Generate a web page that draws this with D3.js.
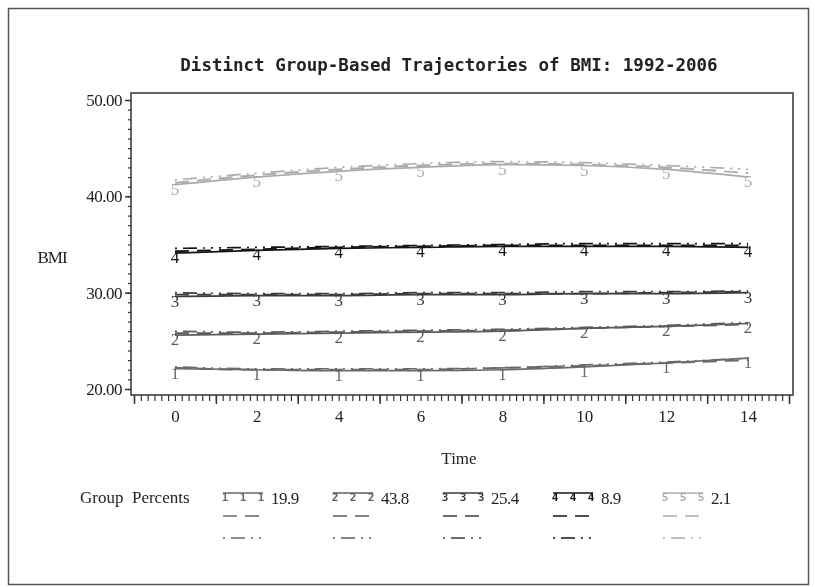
<!DOCTYPE html>
<html>
<head>
<meta charset="utf-8">
<script src="https://cdn.jsdelivr.net/npm/d3@7"></script>
<style>
  body { margin: 0; background: #fff; }
  svg { filter: grayscale(1); }
  svg text { fill: #222; }
</style>
</head>
<body>
<div id="container"></div>
<script>
// values
var times = [0, 2, 4, 6, 8, 10, 12, 14];
var groups = ['1', '2', '3', '4', '5'];
var percents = [19.9, 43.8, 25.4, 8.9, 2.1];

// solid lines (with the group number marker)
var observed = [
  [22.1, 22.0, 21.9, 21.9, 22.0, 22.3, 22.7, 23.2],
  [25.6, 25.7, 25.8, 25.9, 26.0, 26.3, 26.5, 26.8],
  [29.6, 29.7, 29.7, 29.8, 29.8, 29.9, 29.9, 30.0],
  [34.1, 34.4, 34.6, 34.7, 34.8, 34.8, 34.8, 34.7],
  [41.2, 42.0, 42.6, 43.0, 43.3, 43.2, 42.8, 42.0]
];
// dashed lines
var predicted = [
  [22.2, 22.0, 22.0, 22.0, 22.2, 22.4, 22.7, 23.0],
  [25.8, 25.8, 25.9, 26.0, 26.1, 26.3, 26.5, 26.7],
  [29.8, 29.8, 29.8, 29.9, 29.9, 29.9, 30.0, 30.1],
  [34.3, 34.5, 34.7, 34.8, 34.9, 34.9, 34.9, 34.9],
  [41.4, 42.2, 42.8, 43.2, 43.4, 43.3, 43.0, 42.4]
];
// dash-dot lines
var upper = [
  [22.3, 22.1, 22.1, 22.1, 22.2, 22.5, 22.8, 23.2],
  [26.0, 25.9, 26.0, 26.1, 26.2, 26.4, 26.6, 26.9],
  [30.0, 29.9, 29.9, 30.0, 30.0, 30.1, 30.1, 30.2],
  [34.6, 34.7, 34.8, 34.9, 35.0, 35.1, 35.1, 35.1],
  [41.7, 42.4, 43.0, 43.4, 43.6, 43.5, 43.2, 42.8]
];
var yTicks = [20, 30, 40, 50];
var xTicks = [0, 2, 4, 6, 8, 10, 12, 14];

var colors = ['#6a6a6a', '#5c5c5c', '#3c3c3c', '#151515', '#ababab'];
var dashDot = '2,6,14,6,2,6,2,6';
var dashed = '14,8';

var width = 815, height = 587;
var box = {left: 131, right: 793, top: 93, bottom: 395};

var svg = d3.select('div#container')
  .append('svg')
  .attr('width', width)
  .attr('height', height);

// outer frame
svg.append('rect')
  .attr('x', 8.5).attr('y', 8.5)
  .attr('width', 800).attr('height', 576)
  .attr('fill', 'none')
  .attr('stroke', '#555')
  .attr('stroke-width', 1.5);

var x = d3.scaleLinear().domain([-1, 15]).range([134, 789]);
var y = d3.scaleLinear().domain([20, 50]).range([389, 100]);

// title
svg.append('text')
  .attr('x', 449).attr('y', 71)
  .attr('text-anchor', 'middle')
  .attr('font-family', 'DejaVu Sans Mono')
  .attr('font-weight', 'bold')
  .attr('font-size', '17.5px')
  .text('Distinct Group-Based Trajectories of BMI: 1992-2006');

// plot box
svg.append('rect')
  .attr('x', box.left).attr('y', box.top)
  .attr('width', box.right - box.left).attr('height', box.bottom - box.top)
  .attr('fill', 'none')
  .attr('stroke', '#333')
  .attr('stroke-width', 1.5);

// y axis
var yAxis = d3.axisLeft(y)
  .tickValues(yTicks)
  .tickFormat(d3.format('.2f'))
  .tickSize(6)
  .tickSizeOuter(0);
var yG = svg.append('g')
  .attr('transform', 'translate(' + box.left + ',0)')
  .call(yAxis);
yG.select('.domain').remove();
yG.selectAll('line').attr('stroke', '#333').attr('stroke-width', 1.5);
yG.selectAll('text')
  .attr('font-family', 'Liberation Serif')
  .attr('font-size', '17px')
  .attr('fill', '#222')
  .attr('x', -9)
  .attr('letter-spacing', '-0.5px');

var yMinor = svg.append('g')
  .attr('transform', 'translate(' + box.left + ',0)')
  .call(d3.axisLeft(y).tickValues(d3.range(20, 51, 1)).tickSize(3).tickFormat(''));
yMinor.select('.domain').remove();
yMinor.selectAll('line').attr('stroke', '#333').attr('stroke-width', 1.2);

// x axis: long ticks at odd values, minor ticks each 1/6
var xMinorVals = d3.range(0, 97).map(function(i) { return -1 + i / 6; });
var xMinor = svg.append('g')
  .attr('transform', 'translate(0,' + box.bottom + ')')
  .call(d3.axisBottom(x).tickValues(xMinorVals).tickSize(6).tickFormat(''));
xMinor.select('.domain').remove();
xMinor.selectAll('line').attr('stroke', '#333').attr('stroke-width', 1.2);

var xMajor = svg.append('g')
  .attr('transform', 'translate(0,' + box.bottom + ')')
  .call(d3.axisBottom(x).tickValues(d3.range(-1, 16, 2)).tickSize(9).tickFormat(''));
xMajor.select('.domain').remove();
xMajor.selectAll('line').attr('stroke', '#333').attr('stroke-width', 1.5);

var xLabels = svg.append('g')
  .attr('transform', 'translate(0,' + box.bottom + ')')
  .call(d3.axisBottom(x).tickValues(xTicks).tickSize(0).tickPadding(15));
xLabels.select('.domain').remove();
xLabels.selectAll('text')
  .attr('font-family', 'Liberation Serif')
  .attr('font-size', '17px')
  .attr('fill', '#222');

// axis titles
svg.append('text')
  .attr('x', 52).attr('y', 263)
  .attr('text-anchor', 'middle')
  .attr('font-family', 'Liberation Serif')
  .attr('font-size', '17px')
  .attr('letter-spacing', '-1px')
  .text('BMI');

svg.append('text')
  .attr('x', 459).attr('y', 464)
  .attr('text-anchor', 'middle')
  .attr('font-family', 'Liberation Serif')
  .attr('font-size', '17px')
  .text('Time');

// lines
var line = d3.line()
  .x(function(d, i) { return x(times[i]); })
  .y(function(d) { return y(d); })
  .curve(d3.curveMonotoneX);

var plot = svg.append('g');

groups.forEach(function(g, gi) {
  plot.append('path')
    .attr('d', line(upper[gi]))
    .attr('fill', 'none')
    .attr('stroke', colors[gi])
    .attr('stroke-width', 1.7)
    .attr('stroke-dasharray', dashDot);
  plot.append('path')
    .attr('d', line(predicted[gi]))
    .attr('fill', 'none')
    .attr('stroke', colors[gi])
    .attr('stroke-width', 1.9)
    .attr('stroke-dasharray', dashed);
  plot.append('path')
    .attr('d', line(observed[gi]))
    .attr('fill', 'none')
    .attr('stroke', colors[gi])
    .attr('stroke-width', 1.7);

  plot.selectAll('text.mk' + g)
    .data(observed[gi])
    .join('text')
    .attr('class', 'mk' + g)
    .attr('x', function(d, i) { return x(times[i]); })
    .attr('y', function(d) { return y(d) + 10; })
    .attr('text-anchor', 'middle')
    .attr('font-family', 'Liberation Serif')
    .attr('font-size', '17px')
    .style('fill', colors[gi])
    .text(g);
});

// legend
svg.append('text')
  .attr('x', 80).attr('y', 503)
  .attr('font-family', 'Liberation Serif')
  .attr('font-size', '17px')
  .attr('xml:space', 'preserve')
  .style('white-space', 'pre')
  .text('Group  Percents');

var leg = svg.selectAll('g.leg')
  .data(groups)
  .join('g')
  .attr('class', 'leg')
  .attr('transform', function(d, i) { return 'translate(' + (223 + i * 110) + ',0)'; });

leg.append('line')
  .attr('x1', 0).attr('x2', 40)
  .attr('y1', 493).attr('y2', 493)
  .attr('stroke', function(d, i) { return colors[i]; })
  .attr('stroke-width', 1.6);

[2, 20, 38].forEach(function(dx) {
  leg.append('text')
    .attr('x', dx).attr('y', 501)
    .attr('text-anchor', 'middle')
    .attr('font-family', 'DejaVu Sans Mono')
    .attr('font-weight', 'bold')
    .attr('font-size', '11px')
    .style('fill', function(d, i) { return colors[i]; })
    .text(function(d) { return d; });
});

leg.append('text')
  .attr('x', 48).attr('y', 504)
  .attr('font-family', 'Liberation Serif')
  .attr('font-size', '17px')
  .attr('letter-spacing', '-0.5px')
  .text(function(d, i) { return percents[i]; });

leg.append('line')
  .attr('x1', 0).attr('x2', 40)
  .attr('y1', 516).attr('y2', 516)
  .attr('stroke', function(d, i) { return colors[i]; })
  .attr('stroke-width', 1.6)
  .attr('stroke-dasharray', dashed);

leg.append('line')
  .attr('x1', 0).attr('x2', 40)
  .attr('y1', 538).attr('y2', 538)
  .attr('stroke', function(d, i) { return colors[i]; })
  .attr('stroke-width', 1.6)
  .attr('stroke-dasharray', dashDot);
</script>
</body>
</html>
